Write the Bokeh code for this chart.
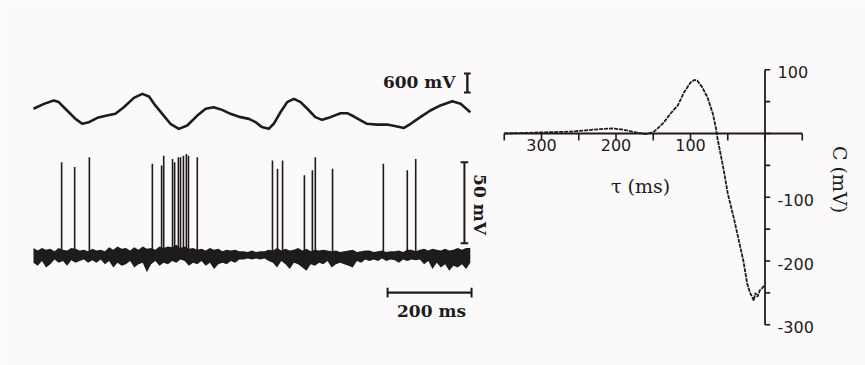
import math
from bokeh.plotting import figure
from bokeh.models import Range1d
from bokeh.core.properties import value
from bokeh.embed import file_html
from bokeh.resources import INLINE

# ---------------- data ----------------
# stimulus trace (time in ms, amplitude in mV)
stim_t = [0, 25, 48, 60, 80, 100, 116, 132, 152, 175, 195, 215, 239, 259, 275, 290,
          310, 326, 346, 366, 390, 410, 429, 449, 469, 493, 513, 529, 544, 560, 572,
          588, 604, 620, 636, 652, 671, 687, 707, 731, 747, 763, 779, 794, 818, 842,
          866, 882, 898, 921, 945, 969, 997, 1017, 1040]
stim_mv = [150, 305, 410, 360, 95, -170, -325, -275, -135, -65, -10, 200, 495, 620, 535, 255,
           -65, -325, -485, -380, -65, 150, 200, 115, -10, -115, -170, -275, -430, -485, -325,
           40, 360, 465, 360, 150, -115, -200, -115, 10, 10, -95, -220, -325, -350, -350,
           -410, -455, -325, -115, 95, 255, 390, 305, 40]

# spike times (ms) and spike peak heights (mV above baseline)
spike_t = [67, 98, 133, 283, 305, 310, 331, 336, 345, 350, 357, 364, 369, 390,
           569, 581, 593, 645, 664, 671, 712, 833, 890, 910]
spike_peak = [57, 54, 60, 56, 55, 61, 59, 57, 60, 60, 61, 62, 61, 60,
              58, 53, 58, 49, 52, 60, 53, 56, 52, 59]

# membrane noise envelope around baseline (mV), sampled every 10 ms
noise_t = list(range(0, 1041, 10))
noise_hi = [4, 2.5, 4, 3, 3.5, 2, 4, 3, 2.5, 4, 3.5,
            2.5, 3, 2, 3.5, 2.5, 3, 2, 4.5, 3, 5,
            3.5, 4, 2.5, 4.5, 3, 5, 3.5, 4, 3, 5,
            4, 5, 4.5, 6, 4, 5, 3.5, 4, 3, 3.5,
            2.5, 4, 3, 3.5, 2, 3, 2.5, 3, 2, 2,
            1.5, 2.5, 1.5, 2, 2, 3, 2.5, 4, 2.5, 3.5,
            2.5, 3, 4, 2.5, 3.5, 2, 3, 2.5, 3, 2.5,
            2, 2.5, 1.5, 2, 2.5, 3, 1.5, 2, 2.5, 2.5,
            1.5, 2, 2.5, 1.5, 2, 2, 2.5, 1.5, 3, 3,
            2, 3, 3.5, 2.5, 3.5, 3, 2.5, 3.5, 2.5, 3,
            4, 3, 4, 4]
noise_lo = [-5, -7, -4, -8, -6, -3, -5, -4, -7, -3.5, -5,
            -4, -3, -5, -3.5, -5, -3, -6, -4, -8, -5,
            -7, -6, -4, -8, -6, -5, -11, -6, -4, -7,
            -5, -6, -4, -5, -3, -4, -7, -5, -6, -4,
            -7, -5, -9, -6, -5, -6, -4, -5, -3, -3,
            -2.5, -3, -2.5, -3, -2.5, -4, -5, -8, -4, -6,
            -9, -5, -6, -8, -10, -6, -7, -5, -6, -4,
            -8, -6, -5, -6, -7, -8, -4, -5, -3, -4,
            -3, -4, -2.5, -4, -3, -3.5, -5, -3, -4, -3,
            -3.5, -3, -6, -4, -9, -5, -8, -6, -10, -7,
            -8, -6, -9, -5]

# spike-triggered correlation C(tau) in mV, tau in ms
tau = [350, 320, 290, 260, 240, 220, 205, 190, 175, 160, 150, 145, 136, 127, 117, 109,
       100, 95, 91, 84, 77, 70, 66, 64, 60, 55, 50, 42, 33, 29, 24, 20, 17, 15, 13,
       10, 7, 4, 1]
corr = [0, 1, 2, 3, 5, 7, 8, 6, 2, -1, 2, 7, 17, 31, 44, 64,
        80, 84, 83, 72, 56, 31, 9, -6, -30, -60, -94, -132, -179, -200, -235, -250, -257, -262, -250,
        -256, -246, -243, -238]

tau_ticks = [350, 300, 250, 200, 150, 100, 50, 0, -50]
tau_labels = [300, 200, 100]
c_ticks = [100, 50, 0, -50, -100, -150, -200, -250, -300]
c_labels = [100, -100, -200, -300]

STIM_BAR = 600   # mV
SPIKE_BAR = 50   # mV
TIME_BAR = 200   # ms

# ---------------- styling ----------------
BG = "#fcf9fb"
INK = "#1e1b1d"
SERIF = value("DejaVu Serif")
SANS = value("DejaVu Sans")

p = figure(width=865, height=365, output_backend="svg", toolbar_location=None,
           x_axis_location=None, y_axis_location=None, min_border=0,
           x_range=Range1d(-78.57, 1980.95), y_range=Range1d(-68.5, 156.8))
p.extra_x_ranges = {"tau": Range1d(1026.2, -134.9)}
p.extra_y_ranges = {"C": Range1d(-363.9, 208.6), "stim": Range1d(-7963, 3571)}
p.grid.visible = False
p.outline_line_color = None
p.background_fill_color = BG
p.border_fill_color = BG

# ---- left panel ----
p.line(stim_t, stim_mv, y_range_name="stim", line_width=2.6, color=INK, line_join="round")
p.varea(x=noise_t, y1=noise_lo, y2=noise_hi, fill_color=INK)
p.segment(x0=spike_t, y0=[0] * len(spike_t), x1=spike_t, y1=spike_peak,
          line_width=1.6, color=INK)

# scale bar: 600 mV
bx = 1033
p.segment(x0=[bx], y0=[664], x1=[bx], y1=[664 + STIM_BAR], y_range_name="stim",
          line_width=2.4, color=INK)
p.segment(x0=[bx - 8, bx - 8], y0=[664, 664 + STIM_BAR], x1=[bx + 8, bx + 8],
          y1=[664, 664 + STIM_BAR], y_range_name="stim", line_width=2, color=INK)
p.text(x=[1004.8], y=[980], text=[f"{STIM_BAR} mV"], y_range_name="stim",
       text_font=SERIF, text_font_size="17px", text_align="right",
       text_baseline="middle", text_color=INK, text_font_style="bold")

# scale bar: 50 mV
sx = 1026
p.segment(x0=[sx], y0=[7], x1=[sx], y1=[7 + SPIKE_BAR], line_width=2, color=INK)
p.segment(x0=[sx - 9, sx - 9], y0=[7, 7 + SPIKE_BAR], x1=[sx + 9, sx + 9],
          y1=[7, 7 + SPIKE_BAR], line_width=2, color=INK)
p.text(x=[1062], y=[30.9], text=[f"{SPIKE_BAR} mV"], angle=-math.pi / 2,
       text_font=SERIF, text_font_size="17px", text_align="center",
       text_baseline="middle", text_color=INK, text_font_style="bold")

# scale bar: 200 ms
p.segment(x0=[843], y0=[-23.5], x1=[843 + TIME_BAR], y1=[-23.5], line_width=2.2, color=INK)
p.segment(x0=[843, 843 + TIME_BAR], y0=[-20.5, -20.5], x1=[843, 843 + TIME_BAR],
          y1=[-26.5, -26.5], line_width=2, color=INK)
p.text(x=[947.6], y=[-34.6], text=[f"{TIME_BAR} ms"], text_font=SERIF,
       text_font_size="17px", text_align="center", text_baseline="middle",
       text_color=INK, text_font_style="bold")

# ---- right panel: hand-drawn axes through the origin ----
R = dict(x_range_name="tau", y_range_name="C")
p.segment(x0=[tau_ticks[0]], y0=[0], x1=[tau_ticks[-1]], y1=[0], line_width=1.8, color=INK, **R)
p.segment(x0=tau_ticks, y0=[0] * len(tau_ticks), x1=tau_ticks, y1=[-11] * len(tau_ticks),
          line_width=1.6, color=INK, **R)
p.segment(x0=[0], y0=[c_ticks[0]], x1=[0], y1=[c_ticks[-1]], line_width=1.8, color=INK, **R)
p.segment(x0=[0] * len(c_ticks), y0=c_ticks, x1=[-7] * len(c_ticks), y1=c_ticks,
          line_width=1.6, color=INK, **R)

p.text(x=tau_labels, y=[-17.3] * len(tau_labels), text=[str(v) for v in tau_labels],
       text_font=SANS, text_font_size="16px", text_align="center", text_baseline="middle",
       text_color=INK, **R)
p.text(x=[-16.8] * len(c_labels), y=[v - 4 for v in c_labels], text=[str(v) for v in c_labels],
       text_font=SANS, text_font_size="16px", text_align="left", text_baseline="middle",
       text_color=INK, **R)
p.text(x=[167], y=[-81.6], text=["τ (ms)"], text_font=SERIF, text_font_size="19px",
       text_align="center", text_baseline="middle", text_color=INK, **R)
p.text(x=[-101.3], y=[-72.2], text=["C (mV)"], angle=-math.pi / 2, text_font=SERIF,
       text_font_size="19px", text_align="center", text_baseline="middle",
       text_color=INK, **R)

p.line(tau, corr, line_width=1.8, color=INK, line_dash="4 1", **R)

open("out.html", "w").write(file_html(p, INLINE))
